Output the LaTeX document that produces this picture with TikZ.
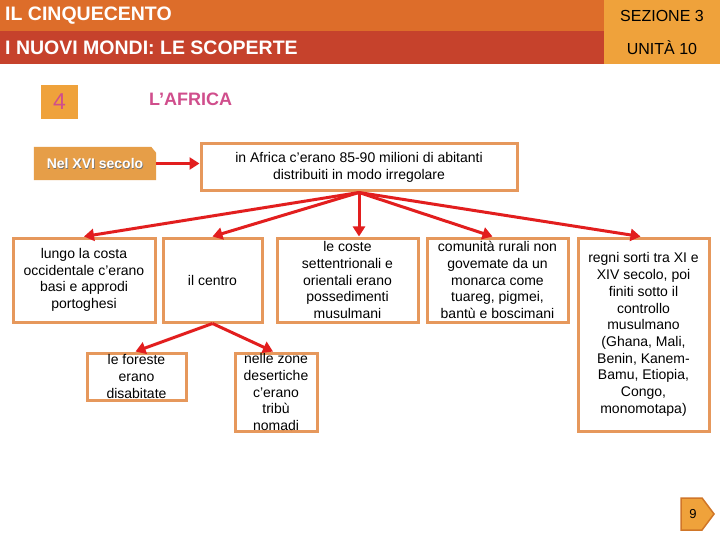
\documentclass[tikz,border=0pt]{standalone}
\usepackage{fontspec}
\setmainfont{Liberation Sans}
\usetikzlibrary{arrows.meta,calc}
\definecolor{barone}{RGB}{221,109,42}
\definecolor{bartwo}{RGB}{198,66,44}
\definecolor{barside}{RGB}{239,162,59}
\definecolor{boxline}{RGB}{230,152,92}
\definecolor{nelfill}{RGB}{230,158,72}
\definecolor{pinktxt}{RGB}{208,78,140}
\definecolor{arrred}{RGB}{226,30,30}
\definecolor{pagedark}{RGB}{208,118,40}
\tikzset{
  bx/.style={draw=boxline, line width=3pt, inner sep=0pt, fill=white},
  txt/.style={inner sep=0pt, align=center, font=\fontsize{14}{16.7}\selectfont},
  arr/.style={draw=arrred, line width=3pt, -{Triangle[length=10pt,width=12pt]}},
  hdr/.style={inner sep=0pt, anchor=west, text=white, font=\fontsize{19.5}{22}\selectfont\bfseries},
  side/.style={inner sep=0pt, font=\fontsize{16}{18}\selectfont}
}
\begin{document}
\begin{tikzpicture}[x=1pt,y=-1pt]
\useasboundingbox (0,0) rectangle (720,540);
\fill[white] (0,0) rectangle (720,540);
% header
\fill[barone] (0,0) rectangle (604,31);
\fill[bartwo] (0,31) rectangle (604,64);
\fill[barside] (604,0) rectangle (720,64);
\node[hdr] (h1) at (5,16) {IL CINQUECENTO};
\node[hdr] (h2) at (5,48) {I NUOVI MONDI: LE SCOPERTE};
\node[side] (s1) at (662,16) {SEZIONE 3};
\node[side] (s2) at (662,48) {UNITÀ 10};
% section number and title
\node[fill=barside, minimum width=37pt, minimum height=34pt, inner sep=0pt, text=pinktxt, font=\fontsize{23}{25}\selectfont] (num) at (59.5,102) {4};
\node[inner sep=0pt, anchor=west, text=pinktxt, font=\fontsize{18}{20}\selectfont\bfseries] (title) at (149,99) {L’AFRICA};
% Nel XVI secolo
\node[minimum width=122pt, minimum height=33pt, inner sep=0pt] (nel) at (95,163.5) {};
\fill[nelfill] (nel.south west) -- (nel.north west) -- ($(nel.north east)+(-5,0)$) -- ($(nel.north east)+(0,6)$) -- (nel.south east) -- cycle;
\node[inner sep=0pt, text=black!55, font=\fontsize{14}{16}\selectfont\bfseries] (nelsh) at ($(nel.center)+(0.7,0.7)$) {Nel XVI secolo};
\node[inner sep=0pt, text=white, font=\fontsize{14}{16}\selectfont\bfseries] (neltxt) at (nel.center) {Nel XVI secolo};
% main box
\node[bx, minimum width=316pt, minimum height=47pt] (main) at (359,167.5) {};
\node[txt] (maint) at (main.center) {in Africa c'erano 85-90 milioni di abitanti\\distribuiti in modo irregolare};
% second row
\node[bx, minimum width=142pt, minimum height=84pt] (b1) at (84,280) {};
\node[txt] (t1) at (b1.center) {lungo la costa\\occidentale c'erano\\basi e approdi\\portoghesi};
\node[bx, minimum width=99pt, minimum height=84pt] (b2) at (212.5,280) {};
\node[txt] (t2) at (b2.center) {il centro};
\node[bx, minimum width=141pt, minimum height=84pt] (b3) at (347.5,280) {};
\node[txt] (t3) at (b3.center) {le coste\\settentrionali e\\orientali erano\\possedimenti\\musulmani};
\node[bx, minimum width=141pt, minimum height=84pt] (b4) at (497.5,280) {};
\node[txt] (t4) at (b4.center) {comunità rurali non\\govemate da un\\monarca come\\tuareg, pigmei,\\bantù e boscimani};
\node[bx, minimum width=131pt, minimum height=193pt] (b5) at (643.5,334.5) {};
\node[txt] (t5) at (b5.center) {regni sorti tra XI e\\XIV secolo, poi\\finiti sotto il\\controllo\\musulmano\\(Ghana, Mali,\\Benin, Kanem-\\Bamu, Etiopia,\\Congo,\\monomotapa)};
% third row
\node[bx, minimum width=99pt, minimum height=47pt] (b6) at (136.5,376.5) {};
\node[txt] (t6) at (b6.center) {le foreste\\erano\\disabitate};
\node[bx, minimum width=82pt, minimum height=78pt] (b7) at (276,392) {};
\node[txt] (t7) at (b7.center) {nelle zone\\desertiche\\c'erano\\tribù\\nomadi};
% arrows
\draw[arr] (nel.east) -- (nel.east -| main.west);
\draw[arr] (main.south) -- (b1.north);
\draw[arr] (main.south) -- (b2.north);
\draw[arr] (main.south) -- (main.south |- b3.north);
\draw[arr] (main.south) -- ($(b4.north)+(-5,0)$);
\draw[arr] (main.south) -- ($(b5.north)+(-3,0)$);
\draw[arr] (b2.south) -- ($(b6.north)+(-1,0)$);
\draw[arr] (b2.south) -- ($(b7.north)+(-3,0)$);
% page number
\draw[fill=barside, draw=pagedark, line width=1.5pt] (681,498) -- (702,498) -- (714,514) -- (702,530) -- (681,530) -- cycle;
\node[inner sep=0pt, font=\fontsize{13}{14}\selectfont] (pg) at (693,514) {9};
\end{tikzpicture}
\end{document}
